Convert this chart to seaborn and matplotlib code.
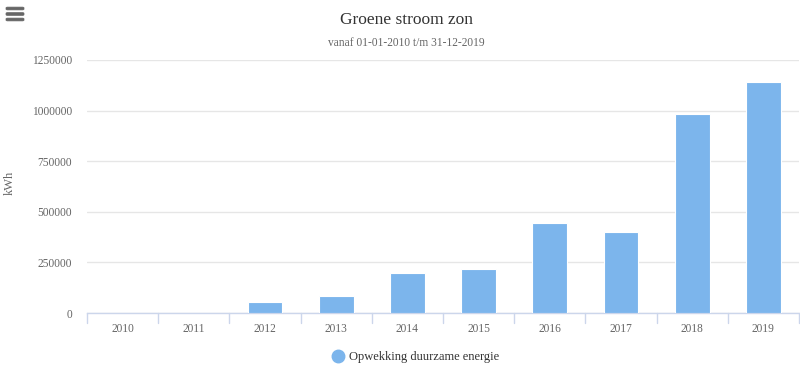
import matplotlib
matplotlib.use("Agg")
import matplotlib.pyplot as plt
import seaborn as sns
import pandas as pd
from matplotlib.patches import FancyBboxPatch
from matplotlib.lines import Line2D

years = ["2010", "2011", "2012", "2013", "2014", "2015", "2016", "2017", "2018", "2019"]
values = [0, 0, 54000, 86000, 198000, 218000, 445000, 400000, 982000, 1141000]
yticks = [0, 250000, 500000, 750000, 1000000, 1250000]
title = "Groene stroom zon"
subtitle = "vanaf 01-01-2010 t/m 31-12-2019"
series_name = "Opwekking duurzame energie"
y_title = "kWh"

sns.set_theme(style="white")
plt.rcParams["font.family"] = ["Liberation Serif", "DejaVu Serif"]

df = pd.DataFrame({"year": years, "kwh": values})

fig = plt.figure(figsize=(8, 3.76), dpi=100)
ax = fig.add_axes([87/800, 1-313/376, 712/800, (313-60)/376])

color = "#7cb5ec"
sns.barplot(data=df, x="year", y="kwh", color=color, width=0.49,
            saturation=1, edgecolor="white", linewidth=0.8, ax=ax, zorder=3)

ax.set_ylim(0, 1250000)
ax.set_xlim(-0.5, len(years) - 0.5)
ax.set_yticks(yticks)
ax.set_yticklabels([str(v) for v in yticks], fontsize=8.3, color="#666666")
ax.tick_params(axis="y", length=0, pad=10.8)
ax.tick_params(axis="x", length=0, pad=7, labelsize=8.3, labelcolor="#666666")
ax.yaxis.grid(True, color="#e6e6e6", linewidth=1, zorder=0)
ax.xaxis.grid(False)
for s in ["top", "right", "left"]:
    ax.spines[s].set_visible(False)
ax.spines["bottom"].set_color("#ccd6eb")
ax.spines["bottom"].set_linewidth(1)
ax.set_xlabel("")
ax.set_ylabel("")
fig.text(10/800, 1 - 183/376, y_title, rotation=90, ha="center", va="center",
         fontsize=9, color="#666666")

# category separator ticks below the axis
for i in range(len(years) + 1):
    xpos = i - 0.5
    ax.plot([xpos, xpos], [0, -10/253], transform=ax.get_xaxis_transform(),
            color="#ccd6eb", linewidth=1, clip_on=False)

fig.text(407/800, 1 - 20/376, title, ha="center", va="center", fontsize=12.5, color="#333333")
fig.text(406/800, 1 - 43/376, subtitle, ha="center", va="center", fontsize=8.3, color="#666666")

# legend
handle = Line2D([0], [0], marker="o", linestyle="", markersize=9,
                markerfacecolor=color, markeredgecolor=color)
fig.legend([handle], [series_name], loc="center", bbox_to_anchor=(415/800, 1 - 357/376),
           frameon=False, fontsize=9, handletextpad=0.3, handlelength=1.2,
           labelcolor="#333333")

# menu icon
for yy in [8.5, 14, 19.5]:
    fig.add_artist(FancyBboxPatch((6/800, 1 - (yy + 1.4)/376), 18/800, 2.8/376,
                                  boxstyle="round,pad=0,rounding_size=0.002",
                                  facecolor="#666666", edgecolor="#666666",
                                  linewidth=0.5, transform=fig.transFigure))

fig.savefig("out.png", dpi=100, facecolor="white")
